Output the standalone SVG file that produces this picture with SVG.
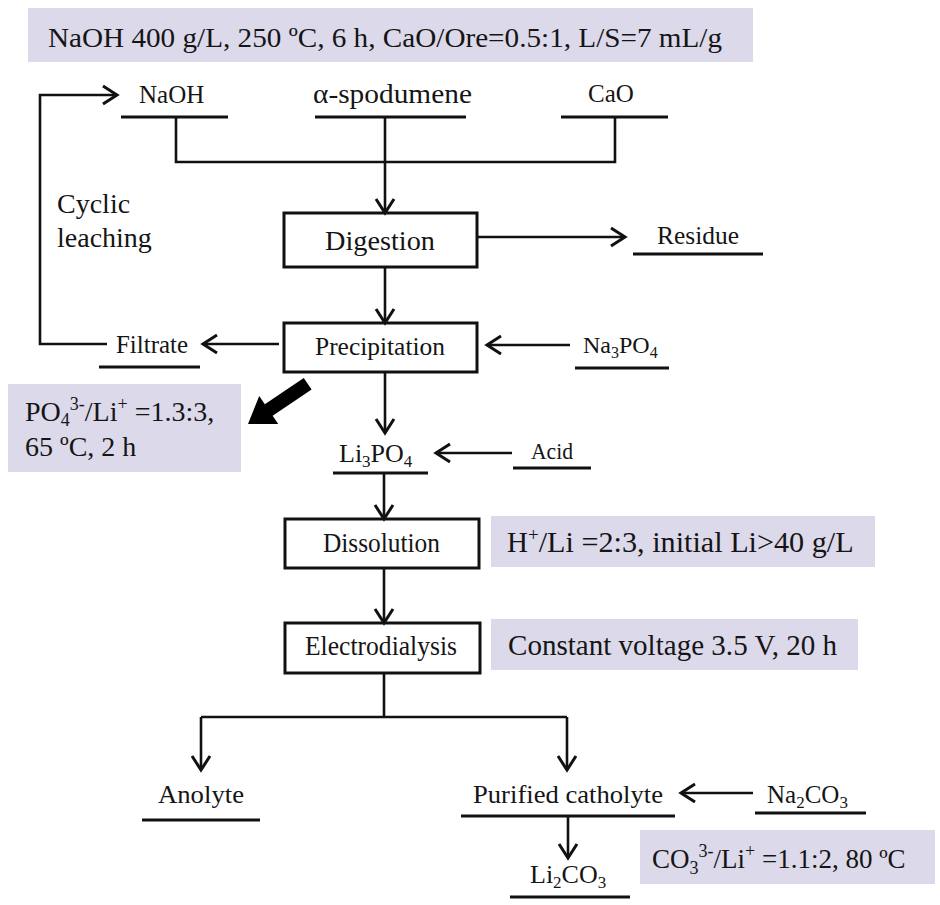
<svg xmlns="http://www.w3.org/2000/svg" width="940" height="905" viewBox="0 0 940 905">
<defs>
<style>
.t{font-family:"Liberation Serif","Times New Roman",serif;fill:#151515}
.note{fill:#dcd9ea}
.box{fill:#fff;stroke:#111;stroke-width:3}
.ul{stroke:#111;stroke-width:3}
.c{fill:none;stroke:#111;stroke-width:2.6}
.ca{fill:none;stroke:#111;stroke-width:2.6;marker-end:url(#ah)}
</style>
<marker id="ah" markerUnits="userSpaceOnUse" markerWidth="20" markerHeight="22" refX="14" refY="10" orient="auto" overflow="visible">
<path d="M1,1 L15,10 L1,19" fill="none" stroke="#111" stroke-width="3"/>
</marker>
</defs>
<rect width="940" height="905" fill="#fff"/>

<g id="banner">
<rect class="note" x="28" y="8" width="725" height="54"/>
<text class="t" x="48" y="47" font-size="28" textLength="674" lengthAdjust="spacingAndGlyphs">NaOH 400 g/L, 250 ºC, 6 h, CaO/Ore=0.5:1, L/S=7 mL/g</text>
</g>

<g id="naoh">
<text class="t" x="139" y="103" font-size="25">NaOH</text>
<line class="ul" x1="121" y1="117" x2="228" y2="117"/>
</g>
<g id="spodumene">
<text class="t" x="313" y="103" font-size="28" textLength="159" lengthAdjust="spacingAndGlyphs">α-spodumene</text>
<line class="ul" x1="315" y1="117" x2="466" y2="117"/>
</g>
<g id="cao">
<text class="t" x="588" y="102" font-size="25">CaO</text>
<line class="ul" x1="561" y1="117" x2="668" y2="117"/>
</g>

<g id="cyclic">
<text class="t" x="57" y="213" font-size="28">Cyclic</text>
<text class="t" x="57" y="247" font-size="28">leaching</text>
</g>

<g id="digestion">
<rect class="box" x="284" y="213" width="193" height="54"/>
<text class="t" x="325" y="250" font-size="28" textLength="110" lengthAdjust="spacingAndGlyphs">Digestion</text>
</g>
<g id="residue">
<text class="t" x="657" y="244" font-size="25" textLength="82" lengthAdjust="spacingAndGlyphs">Residue</text>
<line class="ul" x1="633" y1="254" x2="763" y2="254"/>
</g>

<g id="precipitation">
<rect class="box" x="284" y="323" width="193" height="49"/>
<text class="t" x="315" y="355" font-size="25.5" textLength="130" lengthAdjust="spacingAndGlyphs">Precipitation</text>
</g>
<g id="filtrate">
<text class="t" x="116" y="353" font-size="25" textLength="72" lengthAdjust="spacingAndGlyphs">Filtrate</text>
<line class="ul" x1="99" y1="367" x2="200" y2="367"/>
</g>
<g id="na3po4">
<text class="t" x="583" y="353" font-size="24">Na<tspan font-size="16" dy="5">3</tspan><tspan dy="-5">PO</tspan><tspan font-size="16" dy="5">4</tspan></text>
<line class="ul" x1="575" y1="368" x2="669" y2="368"/>
</g>

<g id="note-po4">
<rect class="note" x="8" y="384" width="233" height="88"/>
<text class="t" x="25" y="421" font-size="28">PO<tspan font-size="18" dy="5">4</tspan><tspan font-size="18" dy="-16">3-</tspan><tspan dy="11">/Li</tspan><tspan font-size="18" dy="-11">+</tspan><tspan dy="11"> =1.3:3,</tspan></text>
<text class="t" x="25" y="456" font-size="28">65 ºC, 2 h</text>
<polygon transform="translate(248,424) rotate(-34)" fill="#000" points="0,0 25,-17 25,-7 72,-7 72,7 25,7 25,17"/>
</g>

<g id="li3po4">
<text class="t" x="339" y="462" font-size="26">Li<tspan font-size="17" dy="5">3</tspan><tspan dy="-5">PO</tspan><tspan font-size="17" dy="5">4</tspan></text>
<line class="ul" x1="333" y1="473" x2="428" y2="473"/>
</g>
<g id="acid">
<text class="t" x="531" y="459" font-size="24" textLength="42" lengthAdjust="spacingAndGlyphs">Acid</text>
<line class="ul" x1="513" y1="468" x2="591" y2="468"/>
</g>

<g id="dissolution">
<rect class="box" x="285" y="519" width="194" height="49"/>
<text class="t" x="323" y="552" font-size="28" textLength="117" lengthAdjust="spacingAndGlyphs">Dissolution</text>
</g>
<g id="note-dissolution">
<rect class="note" x="491" y="516" width="384" height="51"/>
<text class="t" x="507" y="552" font-size="29">H<tspan font-size="19" dy="-11">+</tspan><tspan dy="11" textLength="315" lengthAdjust="spacingAndGlyphs">/Li =2:3, initial Li&gt;40 g/L</tspan></text>
</g>

<g id="electrodialysis">
<rect class="box" x="285" y="623" width="195" height="50"/>
<text class="t" x="305" y="655" font-size="28" textLength="152" lengthAdjust="spacingAndGlyphs">Electrodialysis</text>
</g>
<g id="note-ed">
<rect class="note" x="491" y="619" width="367" height="51"/>
<text class="t" x="508" y="655" font-size="29" textLength="329" lengthAdjust="spacingAndGlyphs">Constant voltage 3.5 V, 20 h</text>
</g>

<g id="anolyte">
<text class="t" x="158" y="803" font-size="26" textLength="86" lengthAdjust="spacingAndGlyphs">Anolyte</text>
<line class="ul" x1="142" y1="820" x2="260" y2="820"/>
</g>
<g id="catholyte">
<text class="t" x="473" y="803" font-size="26" textLength="190" lengthAdjust="spacingAndGlyphs">Purified catholyte</text>
<line class="ul" x1="461" y1="816" x2="675" y2="816"/>
</g>
<g id="na2co3">
<text class="t" x="767" y="803" font-size="25">Na<tspan font-size="17" dy="5">2</tspan><tspan dy="-5">CO</tspan><tspan font-size="17" dy="5">3</tspan></text>
<line class="ul" x1="755" y1="813" x2="866" y2="813"/>
</g>
<g id="li2co3">
<text class="t" x="530" y="883" font-size="26">Li<tspan font-size="17" dy="5">2</tspan><tspan dy="-5">CO</tspan><tspan font-size="17" dy="5">3</tspan></text>
<line class="ul" x1="510" y1="897" x2="630" y2="897"/>
</g>
<g id="note-co3">
<rect class="note" x="640" y="830" width="295" height="54"/>
<text class="t" x="652" y="868" font-size="27">CO<tspan font-size="18" dy="6">3</tspan><tspan font-size="18" dy="-17">3-</tspan><tspan dy="11">/Li</tspan><tspan font-size="18" dy="-11">+</tspan><tspan dy="11"> =1.1:2, 80 ºC</tspan></text>
</g>

<g id="connectors">
<path class="c" d="M176,117 V162 H615 V117"/>
<path class="ca" d="M385,117 V212"/>
<path class="ca" d="M477,237 H624"/>
<path class="ca" d="M385,267 V322"/>
<path class="ca" d="M279,344 H204"/>
<path class="ca" d="M107,344 H40 V95 H116"/>
<path class="ca" d="M570,345 H488"/>
<path class="ca" d="M385,372 V432"/>
<path class="ca" d="M512,453 H437"/>
<path class="ca" d="M384,473 V518"/>
<path class="ca" d="M384,568 V622"/>
<path class="c" d="M384,673 V717 M201,717 H567"/>
<path class="ca" d="M201,717 V769"/>
<path class="ca" d="M567,717 V769"/>
<path class="ca" d="M753,793 H682"/>
<path class="ca" d="M568,816 V857"/>
</g>
</svg>
